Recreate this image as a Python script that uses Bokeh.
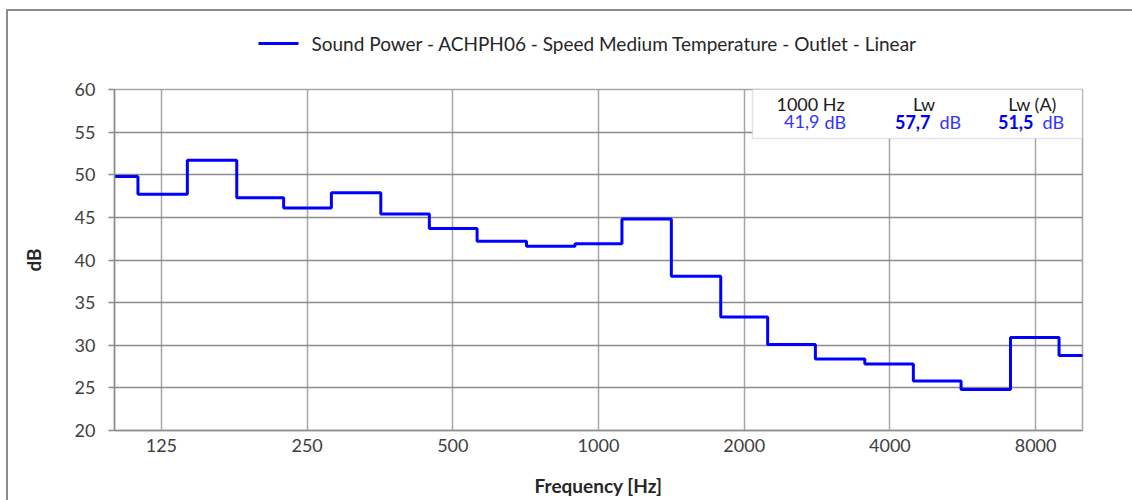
import numpy as np
from bokeh.plotting import figure
from bokeh.models import (FixedTicker, Label, BoxAnnotation, Range1d, CustomJSTickFormatter)
from bokeh.core.properties import value
from bokeh.layouts import column
from bokeh.embed import file_html
from bokeh.resources import INLINE

# ---- data ----
freqs = [100, 125, 160, 200, 250, 315, 400, 500, 630, 800, 1000, 1250, 1600,
         2000, 2500, 3150, 4000, 5000, 6300, 8000, 10000]
levels = [49.8, 47.7, 51.7, 47.3, 46.1, 47.9, 45.4, 43.7, 42.2, 41.6, 41.9,
          44.8, 38.1, 33.3, 30.1, 28.4, 27.8, 25.8, 24.8, 30.9, 28.8]
x_ticks = [125, 250, 500, 1000, 2000, 4000, 8000]
y_ticks = [20, 25, 30, 35, 40, 45, 50, 55, 60]
series_name = "Sound Power - ACHPH06 - Speed Medium Temperature - Outlet - Linear"
info_head = ["1000 Hz", "Lw", "Lw (A)"]
info_vals = ["41,9", "57,7", "51,5"]

FONT = "Lato"
BLUE = "#0000ff"
TXT = "#404040"

W = 1124
LEG_H = 66
MAIN_H = 423
FRAME_L, FRAME_R = 106, 50

# ---- legend strip (a separate figure, since the legend sits outside the frame) ----
# column layouts align the frames, so map this strip's frame to the same pixels
leg = figure(width=W, height=LEG_H, output_backend="svg", toolbar_location=None,
             x_axis_location=None, y_axis_location=None,
             x_range=Range1d(FRAME_L, W - FRAME_R), y_range=Range1d(0, LEG_H),
             min_border=0, min_border_left=FRAME_L, min_border_right=FRAME_R,
             min_border_top=0, min_border_bottom=0)
leg.grid.visible = False
leg.outline_line_color = None
leg.background_fill_color = "white"
leg.border_fill_color = "white"
leg.line([250, 290], [34, 34], line_color=BLUE, line_width=3)
leg.text([303], [34], text=[series_name], text_font=value(FONT), text_font_size="19px",
         text_color="#262626", text_baseline="middle", text_align="left")

# ---- main chart ----
f = np.array(freqs, dtype=float)
mid = np.sqrt(f[:-1] * f[1:])
edges = np.concatenate([[f[0] / (f[1] / f[0]) ** 0.5], mid, [f[-1] * (f[-1] / f[-2]) ** 0.5]])
step_x = list(edges)
step_y = list(levels) + [levels[-1]]

p = figure(width=W, height=MAIN_H, x_axis_type="log", output_backend="svg",
           toolbar_location=None, x_range=Range1d(100, 10000), y_range=Range1d(20, 60),
           min_border_left=FRAME_L, min_border_right=FRAME_R, min_border_top=12,
           min_border_bottom=70)
p.background_fill_color = "white"
p.border_fill_color = "white"
p.outline_line_color = "#a6a6a6"
p.outline_line_width = 1.5

p.step(step_x, step_y, mode="after", line_color=BLUE, line_width=3)

p.xaxis.ticker = FixedTicker(ticks=x_ticks)
p.xaxis.formatter = CustomJSTickFormatter(code="return tick.toFixed(0);")
p.yaxis.ticker = FixedTicker(ticks=y_ticks)
p.xgrid.ticker = FixedTicker(ticks=x_ticks)
p.xgrid.grid_line_color = "#a6a6a6"
p.xgrid.grid_line_width = 1.5
p.ygrid.grid_line_color = "#8c8c8c"
p.ygrid.grid_line_width = 1.5

for ax in (p.xaxis, p.yaxis):
    ax.axis_line_color = "#8c8c8c"
    ax.axis_line_width = 1.5
    ax.major_tick_line_color = "#8c8c8c"
    ax.major_tick_line_width = 1.5
    ax.minor_tick_line_color = None
    ax.major_label_text_font = FONT
    ax.major_label_text_font_size = "18px"
    ax.major_label_text_color = TXT
    ax.axis_label_text_font = FONT
    ax.axis_label_text_font_size = "19px"
    ax.axis_label_text_font_style = "bold"
    ax.axis_label_text_color = "#262626"
    ax.major_tick_in = 0

p.xaxis.major_tick_out = 0
p.xaxis.major_label_standoff = 8
p.xaxis.axis_label = "Frequency [Hz]"
p.xaxis.axis_label_standoff = 19
p.yaxis.major_tick_out = 6
p.yaxis.major_label_standoff = 13
p.yaxis.axis_label = "dB"
p.yaxis.axis_label_standoff = 27

# info box
p.add_layout(BoxAnnotation(left=638, right=968, bottom=292, top=342,
                           left_units="screen", right_units="screen",
                           bottom_units="screen", top_units="screen",
                           fill_color="white", fill_alpha=1.0,
                           line_color="#a6a6a6", line_width=1.5, level="annotation"))

common = dict(x_units="screen", y_units="screen", text_font=FONT, text_font_size="18px",
              text_baseline="alphabetic", level="annotation")
head_x = [696, 809.5, 918]
for hx, t in zip(head_x, info_head):
    p.add_layout(Label(x=hx, y=327, text=t, text_align="center", text_color="#1a1a1a", **common))

val_x = [705, 816, 919]
for i, (vx, v) in enumerate(zip(val_x, info_vals)):
    bold = i > 0
    p.add_layout(Label(x=vx, y=309, text=v, text_align="right",
                       text_color="#0000ee" if bold else "#3333ff",
                       text_font_style="bold" if bold else "normal", **common))
    p.add_layout(Label(x=vx + (5 if i == 0 else 9), y=309, text="dB", text_align="left",
                       text_color="#3333ff", **common))

layout = column(leg, p, spacing=0,
                styles={"border-top": "2px solid #8c8c8c", "border-left": "2px solid #8c8c8c",
                        "margin-left": "6px", "margin-top": "9px"})

open("out.html", "w").write(file_html(layout, INLINE))
